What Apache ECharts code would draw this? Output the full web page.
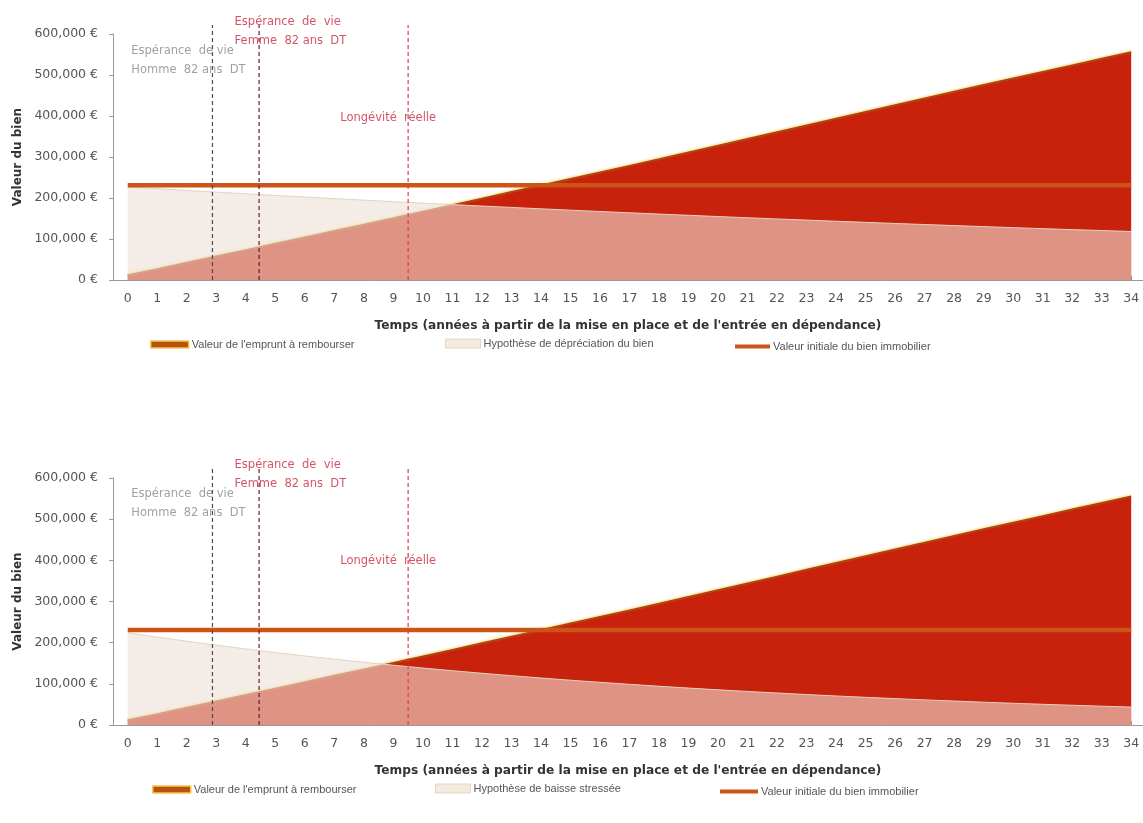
<!DOCTYPE html>
<html>
<head>
<meta charset="utf-8">
<script src="https://cdn.jsdelivr.net/npm/echarts@6/dist/echarts.min.js"></script>
<style>
  html, body { margin: 0; padding: 0; background: #fff; }
  #chart { width: 1143px; height: 823px; }
</style>
</head>
<body>
<div id="chart"></div>
<script>
(() => {
    const FONT = "DejaVu Sans";
    const LEGEND_FONT = "Liberation Sans";

    // years since set-up / entry into dependency
    const years = [0, 1, 2, 3, 4, 5, 6, 7, 8, 9, 10, 11, 12, 13, 14, 15, 16, 17,
        18, 19, 20, 21, 22, 23, 24, 25, 26, 27, 28, 29, 30, 31, 32, 33, 34];

    // loan to repay (same in both charts)
    const loanValues = [12000, 27000, 42500, 58000, 73500, 89000, 104500, 120000, 135500,
        151000, 167000, 183000, 199000, 215000, 231000, 247000, 263000, 279000, 295000,
        311500, 328000, 344500, 361000, 377500, 394000, 410500, 427000, 443500, 460000,
        476000, 492000, 508000, 524000, 540000, 556000];

    // top chart: depreciation hypothesis
    const deprecValues = [227000, 222700, 218500, 214300, 210300, 206300, 202400, 198500,
        194800, 191100, 187400, 183900, 180400, 177000, 173600, 170300, 167100, 163900,
        160800, 157800, 154800, 151800, 148900, 146100, 143300, 140600, 137900, 135300,
        132700, 130200, 127700, 125300, 122900, 120600, 118300];

    // bottom chart: stressed fall hypothesis
    const stressValues = [224000, 213500, 203400, 193900, 184800, 176100, 167800, 159900,
        152400, 145200, 138400, 131900, 125700, 119800, 114200, 108800, 103700, 98800,
        94200, 89700, 85500, 81500, 77700, 74000, 70500, 67200, 64100, 61000, 58200,
        55400, 52800, 50300, 48000, 45700, 43600];

    const initialValue = 231000;

    // vertical markers (years)
    const lifeHomme = 2.87;
    const lifeFemme = 4.45;
    const longevite = 9.5;
    const markerTop = 622000;

    const LOAN = "Valeur de l'emprunt à rembourser";
    const INIT = "Valeur initiale du bien immobilier";
    const DEPREC = ["Hypothèse de dépréciation du bien", "Hypothèse de baisse stressée"];

    const GRAY = "#8a8a8a";
    const CRIMSON = "#c9283e";

    const grids = [
        { left: 113, right: 0, top: 34, height: 246 },
        { left: 113, right: 0, top: 478, height: 247 }
    ];

    function xAxisFor(i) {
        return {
            type: "value", gridIndex: i, min: -0.5, max: 34.4,
            name: "Temps (années à partir de la mise en place et de l'entrée en dépendance)",
            nameLocation: "middle", nameGap: 40,
            nameTextStyle: { fontFamily: FONT, fontWeight: "bold", fontSize: 12.2, color: "#333" },
            axisLine: { onZero: false, lineStyle: { color: "#9a9a9a" } },
            axisTick: { inside: true, length: 4, customValues: years, lineStyle: { color: "#9a9a9a" } },
            axisLabel: { customValues: years, fontFamily: FONT, fontSize: 12.5, color: "#555", margin: 12 },
            splitLine: { show: false }
        };
    }

    function yAxisFor(i) {
        return {
            type: "value", gridIndex: i, min: 0, max: 600000, interval: 100000,
            name: "Valeur du bien", nameLocation: "middle", nameGap: 88,
            nameTextStyle: { fontFamily: FONT, fontWeight: "bold", fontSize: 12, color: "#333" },
            axisLine: { show: true, onZero: false, lineStyle: { color: "#9a9a9a" } },
            axisTick: { show: true, length: 4, lineStyle: { color: "#9a9a9a" } },
            axisLabel: {
                fontFamily: FONT, fontSize: 12.5, color: "#555", margin: 15,
                formatter: v => v.toLocaleString("en-US") + " €"
            },
            splitLine: { show: false }
        };
    }

    function pairs(values) {
        return years.map((t, k) => [t, values[k]]);
    }

    function vline(i, x, color) {
        return {
            type: "line", xAxisIndex: i, yAxisIndex: i, clip: false, silent: true,
            symbol: "none", z: 6,
            data: [[x, 0], [x, markerTop]],
            lineStyle: { color: color, width: 1.2, type: [4, 3] }
        };
    }

    function seriesFor(i, deprec) {
        return [
            {
                name: LOAN, type: "line", xAxisIndex: i, yAxisIndex: i, symbol: "none", z: 2,
                data: pairs(loanValues),
                lineStyle: { color: "#a8470c", width: 1.5, shadowColor: "rgba(255,210,100,0.95)", shadowBlur: 2, shadowOffsetY: -1 },
                areaStyle: { color: "#c8210c", opacity: 1 }
            },
            {
                name: DEPREC[i], type: "line", xAxisIndex: i, yAxisIndex: i, symbol: "none", z: 3,
                data: pairs(deprec),
                lineStyle: { color: "#e5d3bf", width: 1 },
                areaStyle: { color: "#eddfd5", opacity: 0.6 }
            },
            {
                name: INIT, type: "line", xAxisIndex: i, yAxisIndex: i, symbol: "none", z: 4,
                data: years.map(t => [t, initialValue]),
                lineStyle: { color: "#cc5418", width: 4.5 }
            },
            vline(i, lifeHomme, "#4a4a4a"),
            vline(i, lifeFemme, "#6e1c22"),
            vline(i, longevite, "#d4404e"),
            {
                type: "scatter", xAxisIndex: i, yAxisIndex: i, clip: false, silent: true,
                symbolSize: 0, z: 7,
                label: {
                    show: true, position: "right", distance: 0, align: "left",
                    fontFamily: FONT, fontSize: 11.5, lineHeight: 19,
                    formatter: p => p.data.text
                },
                data: [
                    { value: [0.12, i === 0 ? 535000 : 539000], text: "Espérance  de vie\nHomme  82 ans  DT", label: { color: GRAY } },
                    { value: [3.62, i === 0 ? 606000 : 609000], text: "Espérance  de  vie\nFemme  82 ans  DT", label: { color: CRIMSON } },
                    { value: [7.2, i === 0 ? 394000 : 398000], text: "Longévité  réelle", label: { color: CRIMSON } }
                ]
            }
        ];
    }

    function legendItem(name, left, top, icon, w, h) {
        return {
            left: left, top: top, padding: 0, selectedMode: false, itemWidth: w, itemHeight: h,
            textStyle: { fontFamily: LEGEND_FONT, fontSize: 11, color: "#555", padding: [0, 0, 0, -2] },
            data: [Object.assign({ name: name }, icon)]
        };
    }

    const loanIcon = { icon: "rect", itemStyle: { color: "#b9510f", borderColor: "#f2c94c", borderWidth: 1.5 } };
    const deprecIcon = { icon: "rect", itemStyle: { color: "#f4ebe0", borderColor: "#e6d6bc", borderWidth: 1 } };
    const initIcon = { icon: "rect", itemStyle: { color: "#cc5418", borderWidth: 0 } };

    const chart = echarts.init(document.getElementById("chart"));
    chart.setOption({
        animation: false,
        backgroundColor: "#fff",
        grid: grids,
        xAxis: [xAxisFor(0), xAxisFor(1)],
        yAxis: [yAxisFor(0), yAxisFor(1)],
        legend: [
            legendItem(LOAN, 150, 339, loanIcon, 38, 7),
            legendItem(DEPREC[0], 445, 338, deprecIcon, 35, 9),
            legendItem(INIT, 735, 341, initIcon, 35, 4),
            legendItem(LOAN, 152, 784, loanIcon, 38, 7),
            legendItem(DEPREC[1], 435, 783, deprecIcon, 35, 9),
            legendItem(INIT, 720, 786, initIcon, 38, 4)
        ],
        series: seriesFor(0, deprecValues).concat(seriesFor(1, stressValues))
    });
})();
</script>
</body>
</html>
